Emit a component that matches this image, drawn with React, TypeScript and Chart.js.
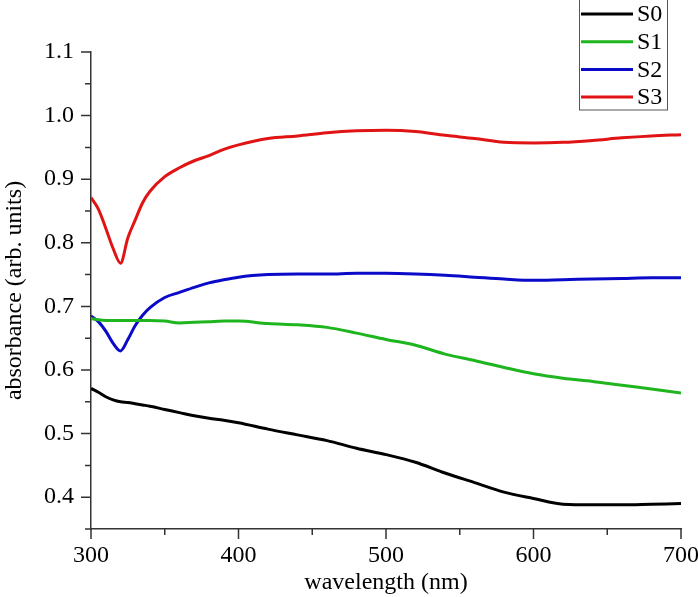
import React, { useEffect, useRef } from "react";
import { Chart, registerables } from "chart.js";

Chart.register(...registerables);

const wavelengths = [300, 305, 310, 315, 320, 325, 330, 335, 340, 350, 360, 370, 380, 390, 400, 420, 440, 460, 480, 500, 520, 540, 560, 580, 600, 620, 640, 660, 680, 700];

const s0 = [0.571, 0.565, 0.558, 0.553, 0.550, 0.549, 0.547, 0.545, 0.543, 0.538, 0.533, 0.528, 0.524, 0.521, 0.517, 0.507, 0.498, 0.489, 0.477, 0.467, 0.455, 0.438, 0.423, 0.408, 0.398, 0.389, 0.388, 0.388, 0.389, 0.390];
const s1 = [0.681, 0.679, 0.678, 0.678, 0.678, 0.678, 0.678, 0.678, 0.678, 0.677, 0.674, 0.675, 0.676, 0.677, 0.677, 0.673, 0.671, 0.667, 0.658, 0.648, 0.639, 0.625, 0.615, 0.604, 0.594, 0.587, 0.582, 0.576, 0.570, 0.564];
const s2 = [0.685, 0.676, 0.661, 0.642, 0.630, 0.648, 0.670, 0.686, 0.698, 0.714, 0.722, 0.730, 0.737, 0.742, 0.746, 0.750, 0.751, 0.751, 0.752, 0.752, 0.751, 0.749, 0.746, 0.743, 0.741, 0.742, 0.743, 0.744, 0.745, 0.745];
const s3 = [0.871, 0.853, 0.823, 0.791, 0.768, 0.808, 0.836, 0.863, 0.881, 0.904, 0.918, 0.929, 0.937, 0.947, 0.954, 0.964, 0.968, 0.973, 0.976, 0.977, 0.975, 0.969, 0.964, 0.958, 0.957, 0.958, 0.961, 0.965, 0.968, 0.970];

const seriesNames = ["S0", "S1", "S2", "S3"];
const seriesColors = ["#000000", "#1fb51f", "#0a0ac8", "#e01414"];
const seriesValues = [s0, s1, s2, s3];

const xTitle = "wavelength (nm)";
const yTitle = "absorbance (arb. units)";
const FONT = "'Liberation Serif', 'Times New Roman', serif";
const FS = 24;

const tickMarks = {
  id: "tickMarks",
  afterDraw(chart: any) {
    const ctx = chart.ctx;
    const xs = chart.scales.x;
    const ys = chart.scales.y;
    ctx.save();
    ctx.strokeStyle = "#333333";
    ctx.lineWidth = 1.5;
    ctx.beginPath();
    for (const t of xs.ticks) {
      const major = Math.round(t.value) % 100 === 0;
      const px = xs.getPixelForValue(t.value);
      const len = major ? 10 : 6;
      ctx.moveTo(px, xs.top);
      ctx.lineTo(px, xs.top + len);
    }
    for (const t of ys.ticks) {
      const major = Math.round(t.value * 100) % 10 === 0;
      const py = ys.getPixelForValue(t.value);
      const len = major ? 10 : 6;
      ctx.moveTo(ys.right, py);
      ctx.lineTo(ys.right - len, py);
    }
    ctx.stroke();
    ctx.restore();
  },
};

const boxLegend = {
  id: "boxLegend",
  afterDraw(chart: any) {
    const ctx = chart.ctx;
    ctx.save();
    ctx.strokeStyle = "#555555";
    ctx.lineWidth = 1;
    ctx.strokeRect(579.5, -1, 88, 111);
    ctx.font = `${FS}px ${FONT}`;
    ctx.textBaseline = "middle";
    ctx.fillStyle = "#000";
    chart.data.datasets.forEach((ds: any, i: number) => {
      const y = 14 + i * 27.7;
      ctx.strokeStyle = ds.borderColor;
      ctx.lineWidth = 3;
      ctx.beginPath();
      ctx.moveTo(581, y);
      ctx.lineTo(633, y);
      ctx.stroke();
      ctx.fillText(ds.label, 637, y + 1);
    });
    ctx.restore();
  },
};

export default function App() {
  const ref = useRef<HTMLCanvasElement | null>(null);
  useEffect(() => {
    if (!ref.current) return;
    const chart = new Chart(ref.current, {
      type: "line",
      data: {
        datasets: seriesNames.map((name, i) => ({
          label: name,
          data: wavelengths.map((w, j) => ({ x: w, y: seriesValues[i][j] })),
          borderColor: seriesColors[i],
          backgroundColor: seriesColors[i],
          borderWidth: 3,
          pointRadius: 0,
          cubicInterpolationMode: "monotone" as const,
          fill: false,
        })),
      },
      options: {
        animation: false,
        responsive: false,
        maintainAspectRatio: false,
        layout: { padding: { left: 0, top: 52, right: 17, bottom: 0 } },
        plugins: { legend: { display: false }, tooltip: { enabled: false } },
        scales: {
          x: {
            type: "linear",
            min: 300,
            max: 700,
            afterFit: (s: any) => { s.height = 68; s.paddingLeft = 0; s.paddingRight = 0; },
            grid: { display: false, drawTicks: false },
            border: { display: true, color: "#333333", width: 1.5 },
            ticks: {
              stepSize: 50,
              autoSkip: false,
              maxRotation: 0,
              padding: 12,
              color: "#000",
              font: { family: FONT, size: FS },
              callback: (v: any) => (Math.round(v) % 100 === 0 ? String(Math.round(v)) : ""),
            },
            title: { display: true, text: xTitle, color: "#000", font: { family: FONT, size: FS }, padding: { top: 0, bottom: 0 } },
          },
          y: {
            type: "linear",
            min: 0.35,
            max: 1.1,
            afterFit: (s: any) => { s.width = 91; s.paddingTop = 0; s.paddingBottom = 0; },
            grid: { display: false, drawTicks: false },
            border: { display: true, color: "#333333", width: 1.5 },
            ticks: {
              stepSize: 0.05,
              autoSkip: false,
              padding: 17,
              color: "#000",
              font: { family: FONT, size: FS },
              callback: (v: any) => (Math.round(v * 100) % 10 === 0 ? Number(v).toFixed(1) : ""),
            },
            title: { display: true, text: yTitle, color: "#000", font: { family: FONT, size: FS }, padding: { top: 0, bottom: 0 } },
          },
        },
      },
      plugins: [tickMarks, boxLegend],
    });
    return () => chart.destroy();
  }, []);
  return (
    <div style={{ position: "absolute", left: 0, top: 0, width: 698, height: 597, background: "#fff" }}>
      <canvas ref={ref} width={698} height={597} style={{ display: "block" }} />
    </div>
  );
}
